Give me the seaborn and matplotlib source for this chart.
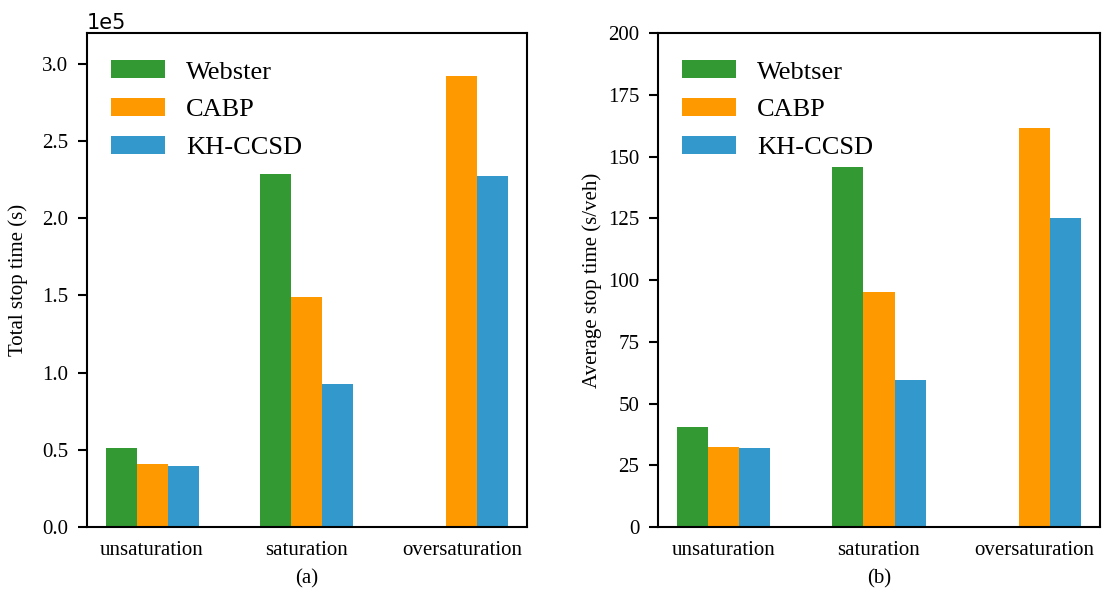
import numpy as np
import pandas as pd
import matplotlib
matplotlib.use("Agg")
import matplotlib.pyplot as plt
import seaborn as sns

categories = ["unsaturation", "saturation", "oversaturation"]
methods_a = ["Webster", "CABP", "KH-CCSD"]
methods_b = ["Webtser", "CABP", "KH-CCSD"]
total_webster = [0.509e5, 2.288e5, np.nan]
total_cabp = [0.407e5, 1.493e5, 2.92e5]
total_khccsd = [0.398e5, 0.926e5, 2.273e5]
avg_webster = [40.5, 145.9, np.nan]
avg_cabp = [32.4, 95.3, 161.4]
avg_khccsd = [31.8, 59.4, 125.2]
colors = ["#339933", "#ff9900", "#3399cc"]

sns.set_style("ticks")
plt.rcParams["font.family"] = ["Liberation Serif", "DejaVu Serif"]
plt.rcParams["text.color"] = "black"
plt.rcParams["axes.labelcolor"] = "black"
plt.rcParams["xtick.color"] = "black"
plt.rcParams["ytick.color"] = "black"
plt.rcParams["axes.edgecolor"] = "black"


def long_df(methods, series):
    rows = []
    for m, vals in zip(methods, series):
        for c, v in zip(categories, vals):
            rows.append({"cat": c, "method": m, "value": v})
    return pd.DataFrame(rows)


df_a = long_df(methods_a, [total_webster, total_cabp, total_khccsd])
df_b = long_df(methods_b, [avg_webster, avg_cabp, avg_khccsd])

fig = plt.figure(figsize=(11.15, 5.91), dpi=100)
ax1 = fig.add_axes([0.078, 0.1083, 0.3946, 0.8358])
ax2 = fig.add_axes([0.5901, 0.1083, 0.3964, 0.8358])

for ax, df, methods, ylabel, cap, lp in [
    (ax1, df_a, methods_a, "Total stop time (s)", "(a)", 10),
    (ax2, df_b, methods_b, "Average stop time (s/veh)", "(b)", 4),
]:
    sns.barplot(data=df.dropna(), x="cat", y="value", hue="method",
                hue_order=methods, order=categories, palette=colors,
                width=0.6, errorbar=None, linewidth=0, saturation=1, ax=ax)
    ax.set_xlim(-0.42, 2.42)
    ax.set_ylabel(ylabel, fontsize=15, labelpad=lp)
    ax.set_xlabel(cap, fontsize=15, labelpad=7)
    for s in ax.spines.values():
        s.set_linewidth(1.5)
        s.set_visible(True)
        s.set_color("black")
    ax.tick_params(axis="y", length=6.5, width=1.5, labelsize=15, pad=7,
                   colors="black")
    ax.tick_params(axis="x", length=0, labelsize=15, pad=10, colors="black")
    leg = ax.legend(loc="upper left", bbox_to_anchor=(0, 0.993),
                    frameon=False, fontsize=19,
                    handlelength=2.05, handleheight=0.68,
                    handletextpad=0.8, labelspacing=0.55)

ax1.set_ylim(0, 3.2e5)
ax1.set_yticks(np.arange(0, 3.01e5, 0.5e5))
ax1.ticklabel_format(axis="y", style="sci", scilimits=(0, 0))
ax1.yaxis.get_offset_text().set_fontfamily("DejaVu Sans")
ax1.yaxis.get_offset_text().set_fontsize(15)
ax1.yaxis.get_offset_text().set_color("black")

ax2.set_ylim(0, 200)
ax2.set_yticks(np.arange(0, 201, 25))

fig.savefig("out.png", dpi=100)
